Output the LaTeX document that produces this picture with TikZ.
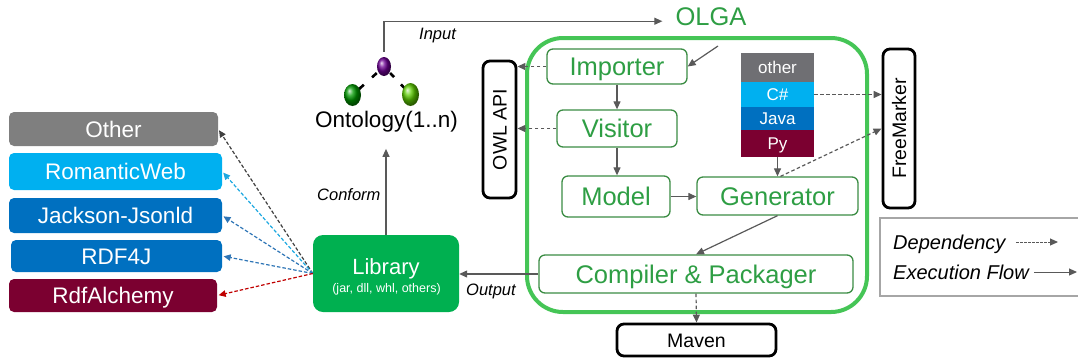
\documentclass[tikz,border=0pt]{standalone}
\usepackage{fontspec}
\setmainfont{Liberation Sans}
\usetikzlibrary{arrows.meta,shapes.geometric,calc}
\definecolor{agray}{HTML}{595959}
\definecolor{ogray}{HTML}{7F7F7F}
\definecolor{rwblue}{HTML}{00B0F0}
\definecolor{dblue}{HTML}{0070C0}
\definecolor{dred}{HTML}{7B0030}
\definecolor{libgreen}{HTML}{00B050}
\definecolor{framegreen}{HTML}{45C556}
\definecolor{boxgreen}{HTML}{3B8C43}
\definecolor{txtgreen}{HTML}{2E9E44}
\definecolor{legray}{HTML}{A6A6A6}
\definecolor{stgray}{HTML}{6F6F73}
\definecolor{arrred}{HTML}{C00000}
\definecolor{arrblue}{HTML}{2E75B6}
\definecolor{arrlblue}{HTML}{1DA8E0}
\definecolor{arrdgray}{HTML}{404040}
\newcommand\fsz[1]{\fontsize{#1}{#1}\selectfont}
\begin{document}
\begin{tikzpicture}[x=1pt,y=-1pt,
  gbox/.style={draw=boxgreen, line width=1.3pt, rounded corners=6pt, text=txtgreen,
    font=\fsz{25.5}, inner sep=0pt, text height=18.3pt, text depth=0pt},
  cbox/.style={fill=#1, rounded corners=5pt, text=white, font=\fsz{22.5},
    inner sep=0pt, text height=16.1pt, text depth=0pt},
  kbox/.style={draw=black, line width=2.8pt, rounded corners=7pt, inner sep=0pt},
  ktxt/.style={font=\fsz{19.5}, inner sep=0pt, text height=14pt, text depth=0pt},
  band/.style={fill=#1, text=white, font=\fsz{17}, inner sep=0pt, minimum width=73pt,
    text height=12.2pt, text depth=0pt},
  flow/.style={draw=agray, line width=1.2pt, -{Triangle[length=8pt,width=7pt]}},
  dep/.style={flow, dash pattern=on 3.5pt off 2.5pt},
  ldep/.style={draw=#1, line width=1.2pt, dash pattern=on 3.5pt off 2pt,
    -{Triangle[length=7pt,width=6.5pt]}, shorten >=1.5pt},
  lab/.style={font=\fsz{16.5}\itshape, anchor=base west, inner sep=0pt},
  bond/.style={draw=black, line width=2.6pt}
]
\useasboundingbox (0,0) rectangle (1078,360);

% ---- left library boxes ----
\node[cbox=ogray, minimum width=209pt, minimum height=34pt] (other) at (113.5,129) {Other};
\node[cbox=rwblue, minimum width=213pt, minimum height=37pt] (rw) at (115.5,171.5) {RomanticWeb};
\node[cbox=dblue, minimum width=213pt, minimum height=35pt] (jj) at (115.5,215.5) {Jackson-Jsonld};
\node[cbox=dblue, minimum width=211pt, minimum height=32pt] (rdf) at (116.5,256) {RDF4J};
\node[cbox=dred, minimum width=208pt, minimum height=33pt] (alch) at (113,295.5) {RdfAlchemy};

% ---- Library ----
\node[fill=libgreen, rounded corners=10pt, minimum width=146pt, minimum height=77pt, inner sep=0pt] (lib) at (386,273.5) {};
\node[anchor=base, text=white, font=\fsz{22}, inner sep=0pt] (libA) at (386,274) {Library};
\node[anchor=base, text=white, font=\fsz{12.5}, inner sep=0pt] (libB) at (386.5,292) {(jar, dll, whl, others)};

\draw[ldep=arrdgray] (lib.west) -- (other.east);
\draw[ldep=arrlblue] (lib.west) -- (rw.east);
\draw[ldep=arrblue] (lib.west) -- (jj.east);
\draw[ldep=arrblue] (lib.west) -- (rdf.east);
\draw[ldep=arrred] (lib.west) -- (alch.east);

% ---- Ontology molecule ----
\coordinate (pc) at (384,66.5);
\coordinate (gc) at (352.5,95);
\coordinate (lc) at (410.5,94.5);
\draw[bond] ($(pc)!0.23!(gc)$) -- ($(pc)!0.38!(gc)$);
\draw[bond] ($(pc)!0.64!(gc)$) -- ($(pc)!0.80!(gc)$);
\draw[bond] ($(pc)!0.23!(lc)$) -- ($(pc)!0.38!(lc)$);
\draw[bond] ($(pc)!0.64!(lc)$) -- ($(pc)!0.80!(lc)$);
\node[ellipse, shade, ball color=violet!85!blue, minimum width=14pt, minimum height=19pt, inner sep=0pt] (pur) at (pc) {};
\node[ellipse, shade, ball color=green!60!black, minimum width=17pt, minimum height=22pt, inner sep=0pt] (grn) at (gc) {};
\node[ellipse, shade, ball color=green!55!yellow!80!black, minimum width=17pt, minimum height=23pt, inner sep=0pt] (lgr) at (lc) {};
\node[anchor=base, font=\fsz{22.5}, inner sep=0pt] (onto) at (386.5,127) {Ontology(1..n)};

% ---- OLGA title and input ----
\node[anchor=base, text=txtgreen, font=\fsz{25.5}, inner sep=0pt] (olga) at (711,25) {OLGA};
\draw[flow] ([yshift=5pt]pur.north) |- ([xshift=-13pt,yshift=-5pt]olga.west);
\node[lab] (inputL) at (419,39) {Input};

\draw[flow] (lib.north) -- (lib.north |- onto.south) [shorten >=17pt];
\node[lab] (conformL) at (317,200) {Conform};

% ---- OLGA frame ----
\draw[draw=framegreen, line width=4pt, rounded corners=36pt] (527,38) rectangle (867,312);

% ---- inner boxes ----
\node[gbox, minimum width=140pt, minimum height=35pt] (imp) at (617,66.5) {Importer};
\node[gbox, minimum width=120pt, minimum height=37pt] (vis) at (617,128.5) {Visitor};
\node[gbox, minimum width=108pt, minimum height=41pt] (mod) at (616,196.5) {Model};
\node[gbox, minimum width=161pt, minimum height=38pt] (gen) at (777.5,196) {Generator};
\node[gbox, minimum width=314pt, minimum height=38pt] (comp) at (696,274) {Compiler \& Packager};

% language stack
\node[band=stgray, minimum height=29pt] (st1) at (777.5,67.5) {other};
\node[band=rwblue, minimum height=25pt] (st2) at (777.5,94.5) {C\#};
\node[band=dblue, minimum height=23pt] (st3) at (777.5,118.5) {Java};
\node[band=dred, minimum height=27pt] (st4) at (777.5,143.5) {Py};

% ---- external black boxes ----
\node[kbox, minimum width=33pt, minimum height=137pt] (owl) at (499.5,129.5) {};
\node[ktxt, rotate=90] (owlT) at (owl.center) {OWL API};
\node[kbox, minimum width=32pt, minimum height=159pt] (fm) at (899,128.5) {};
\node[ktxt, rotate=90] (fmT) at (fm.center) {FreeMarker};
\node[kbox, minimum width=159pt, minimum height=32pt] (mav) at (696.5,340) {};
\node[ktxt] (mavT) at (mav.center) {Maven};

% ---- connectors ----
\coordinate (olgaIn) at (718,46);
\draw[flow] (olgaIn) -- (imp.east);
\draw[dep] (imp.west) -- (imp.west -| owl.east);
\draw[dep] (vis.west) -- (vis.west -| owl.east);
\draw[flow] (imp.south) -- (vis.north);
\draw[flow] (vis.south) -- (vis.south |- mod.north);
\draw[flow] (mod.east) -- (mod.east -| gen.west);
\draw[flow] (st4.south) -- (gen.north);
\draw[dep] ([xshift=3pt]gen.north) -- (fm.west);
\draw[dep] (st2.east) -- (st2.east -| fm.west);
\draw[flow] (gen.south) -- (comp.north);
\draw[flow] (comp.west) -- (comp.west -| lib.east);
\node[lab] (outputL) at (466,295) {Output};
\draw[dep] (comp.south) -- (mav.north);

% ---- legend ----
\draw[draw=legray, line width=1.5pt] (880,218) rectangle (1095,296);
\node[font=\fsz{20}\itshape, anchor=base west, inner sep=0pt] (depL) at (893,249) {Dependency};
\node[font=\fsz{20}\itshape, anchor=base west, inner sep=0pt] (exeL) at (893,279) {Execution Flow};
\coordinate (d1) at (1016,242);
\coordinate (d2) at (1058,242);
\coordinate (e1) at (1034,272);
\coordinate (e2) at (1077,272);
\draw[dep, dash pattern=on 2.5pt off 1.5pt, line width=1pt] (d1) -- (d2);
\draw[flow, line width=1pt] (e1) -- (e2);
\end{tikzpicture}
\end{document}
